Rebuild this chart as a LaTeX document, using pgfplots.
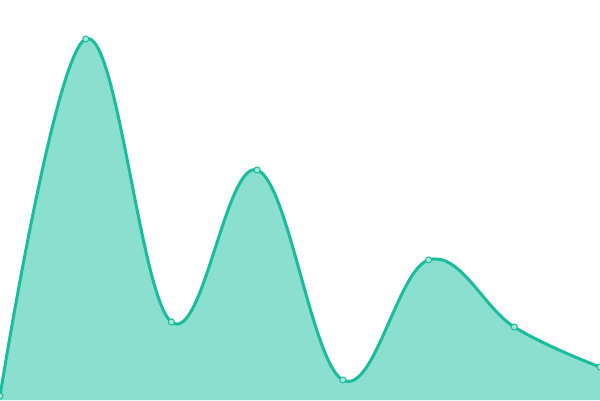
\documentclass[border=0pt]{standalone}
\usepackage{pgfplots}
\pgfplotsset{compat=1.18}
\definecolor{lineteal}{HTML}{1ABC9C}
\definecolor{fillteal}{HTML}{8ADFCF}
\definecolor{markfill}{HTML}{A8E8DB}
\begin{document}
\begin{tikzpicture}
\begin{axis}[
    width=600pt, height=400pt,
    scale only axis,
    hide axis,
    xmin=0, xmax=7,
    ymin=0, ymax=400,
    clip=true,
    ]
% values (pixels above the bottom edge)
\addplot[draw=none, fill=fillteal, smooth, tension=0.65]
  coordinates {(0,4) (1,361) (2,78) (3,230) (4,20) (5,140) (6,73) (7,33)} \closedcycle;
\addplot[lineteal, line width=3pt, smooth, tension=0.65,
    mark=*, mark size=3pt,
    mark options={fill=markfill, draw=lineteal, line width=1pt}]
  coordinates {(0,4) (1,361) (2,78) (3,230) (4,20) (5,140) (6,73) (7,33)};
\end{axis}
\pgfresetboundingbox
\path (current axis.south west) rectangle (current axis.north east);
\end{tikzpicture}
\end{document}
